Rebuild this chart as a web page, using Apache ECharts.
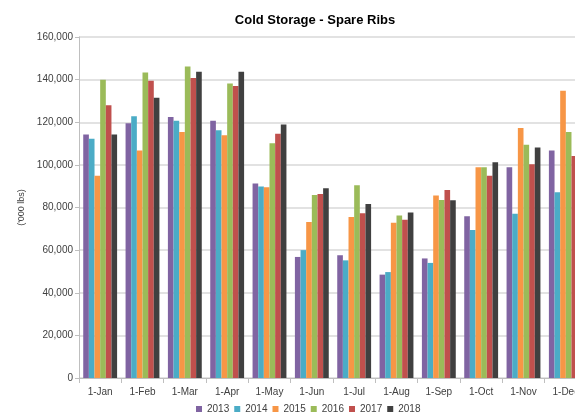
<!DOCTYPE html>
<html><head><meta charset="utf-8">
<script src="https://cdn.jsdelivr.net/npm/echarts@6/dist/echarts.min.js"></script>
<style>html,body{margin:0;padding:0;background:#fff;}#c{width:575px;height:414px;}</style>
</head><body><div id="c"></div>
<script>
var categories = ['1-Jan','1-Feb','1-Mar','1-Apr','1-May','1-Jun','1-Jul','1-Aug','1-Sep','1-Oct','1-Nov','1-Dec'];
var seriesNames = ['2013','2014','2015','2016','2017','2018'];
var s2013 = [114300,119500,122500,120700,91300,56800,57600,48500,56100,75900,98900,106700];
var s2014 = [112300,122800,120700,116200,89900,60000,55200,49700,54000,69400,77100,87100];
var s2015 = [94900,106700,115400,113900,89500,73200,75500,72900,85600,98900,117300,134800];
var s2016 = [140000,143400,146200,138200,110100,85900,90400,76200,83500,98900,109500,115400];
var s2017 = [128000,139500,140800,137000,114600,86300,77300,74300,88200,94900,100300,104200];
var s2018 = [114300,131500,143700,143700,119000,89000,81600,77700,83400,101200,108200,104000];
var yTicks = [0,20000,40000,60000,80000,100000,120000,140000,160000];
var colors = ['#8064A2','#4BACC6','#F79646','#9BBB59','#C0504D','#404040'];
var allData = [s2013,s2014,s2015,s2016,s2017,s2018];

var chart = echarts.init(document.getElementById('c'));
var font = 'Liberation Sans, Arial, sans-serif';
chart.setOption({
  animation:false,
  color:colors,
  title:{text:'Cold Storage - Spare Ribs',left:310,top:9,textAlign:'center',
    textStyle:{fontFamily:font,fontSize:13,fontWeight:'bold',color:'#000'}},
  legend:{top:404,left:196,padding:0,itemWidth:6,itemHeight:6,itemGap:5,icon:'rect',
    data:seriesNames,textStyle:{fontFamily:font,fontSize:10,color:'#404040'}},
  grid:{left:79,top:37,width:508,height:341,outerBoundsMode:'none',containLabel:false},
  xAxis:{type:'category',data:categories,
    axisLine:{lineStyle:{color:'#bfbfbf'}},
    axisTick:{show:true,length:5,lineStyle:{color:'#bfbfbf'}},
    axisLabel:{fontFamily:font,fontSize:10,color:'#404040',margin:9}},
  yAxis:{type:'value',min:yTicks[0],max:yTicks[yTicks.length-1],interval:20000,
    name:"('000 lbs)",nameLocation:'middle',nameGap:52,nameRotate:90,
    nameTextStyle:{fontFamily:font,fontSize:9,color:'#404040'},
    axisLine:{show:true,lineStyle:{color:'#bfbfbf'}},
    axisTick:{show:true,length:4,lineStyle:{color:'#bfbfbf'}},
    splitLine:{lineStyle:{color:'#d9d9d9',width:1.5}},
    axisLabel:{fontFamily:font,fontSize:10,color:'#404040',margin:6,
      formatter:function(v){return v.toLocaleString('en-US');}}},
  series:seriesNames.map(function(n,i){return {name:n,type:'bar',data:allData[i],
    barGap:'0%',barCategoryGap:'20%',itemStyle:{color:colors[i]}};})
});
</script></body></html>
